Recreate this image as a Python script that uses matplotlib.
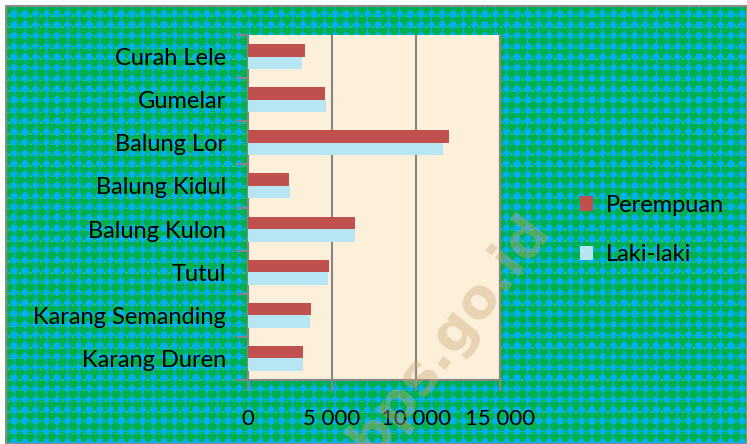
import numpy as np
import matplotlib
matplotlib.use("Agg")
import matplotlib.pyplot as plt
from matplotlib.ticker import FixedFormatter
from matplotlib.patches import Patch

categories = ["Curah Lele", "Gumelar", "Balung Lor", "Balung Kidul",
              "Balung Kulon", "Tutul", "Karang Semanding", "Karang Duren"]
perempuan = [3380, 4580, 11960, 2450, 6370, 4810, 3740, 3270]
laki_laki = [3200, 4640, 11620, 2490, 6370, 4750, 3680, 3260]
xticks = [0, 5000, 10000, 15000]
xtick_labels = ["0", "5 000", "10 000", "15 000"]

W, H = 747, 444
fig = plt.figure(figsize=(W / 100, H / 100), dpi=100, facecolor="white")

# patterned background
bg = fig.add_axes([6 / W, 0, (W - 6) / W, (H - 6) / H])
hh, ww = H - 6, W - 6
yy, xx = np.mgrid[0:hh, 0:ww]
p = 10.7
u = ((xx + 3) % p) / p - 0.5
v = ((yy + 3) % p) / p - 0.5
circ = (u ** 2 + v ** 2) < 0.47 ** 2
uu = np.abs(np.abs(u) - 0.5)
vv = np.abs(np.abs(v) - 0.5)
sq = (uu < 0.26) & (vv < 0.26)
hl = (u ** 2 + (v + 0.2) ** 2 < 0.2 ** 2) & (v < -0.25)
img = np.zeros((hh, ww, 3))
img[:] = np.array([0, 176, 240]) / 255
img[circ] = np.array([0, 176, 80]) / 255
img[circ & hl] = np.array([40, 192, 110]) / 255
img[sq] = np.array([0, 176, 240]) / 255
bg.imshow(img, aspect="auto", interpolation="nearest")
bg.set_axis_off()
fig.patches.append(plt.Rectangle((6 / W, 0), (W - 6) / W, (H - 6) / H,
                                 transform=fig.transFigure, fill=False,
                                 edgecolor="#8c8c8c", linewidth=1.5, zorder=5))

ax = fig.add_axes([248 / W, 1 - 380 / H, (500 - 248) / W, (380 - 35) / H])
ax.set_facecolor("#fdf0da")

n = len(categories)
pos = np.arange(n)
h = 0.29
ax.barh(pos - h / 2, perempuan, height=h, color="#c0504d", zorder=3)
ax.barh(pos + h / 2, laki_laki, height=h, color="#b6e5f3", zorder=3)
ax.set_ylim(n - 0.5, -0.5)
ax.set_xlim(0, 15000)

ax.set_yticks(pos)
ax.set_yticklabels(categories)
ax.set_yticks(np.arange(n + 1) - 0.5, minor=True)
ax.tick_params(axis="y", which="major", length=0, pad=16, labelsize=17)
ax.tick_params(axis="y", which="minor", length=8, color="#868686", width=1.5)
ax.set_xticks(xticks)
ax.xaxis.set_major_formatter(FixedFormatter(xtick_labels))
ax.tick_params(axis="x", length=8, color="#868686", width=1.5, pad=13, labelsize=16)
for lab in ax.get_xticklabels() + ax.get_yticklabels():
    lab.set_fontfamily(["Lato", "DejaVu Sans"])

ax.grid(axis="x", color="#868686", linewidth=1.5, zorder=1)
ax.spines["top"].set_visible(False)
for s in ["left", "bottom", "right"]:
    ax.spines[s].set_color("#868686")
    ax.spines[s].set_linewidth(1.5)

# legend
handles = [Patch(facecolor="#c0504d"), Patch(facecolor="#b6e5f3")]
fig.legend(handles, ["Perempuan", "Laki-laki"], loc="center left",
           bbox_to_anchor=(559 / W, 1 - 230 / H), frameon=False,
           prop={"family": ["Lato", "DejaVu Sans"], "size": 17},
           handlelength=0.55, handleheight=0.55, labelspacing=1.2,
           handletextpad=0.55)

# watermark
fig.text(450 / W, 1 - 335 / H, "bps.go.id", rotation=52, fontsize=40,
         fontweight="bold", color="#c8a878", alpha=0.4,
         ha="center", va="center", zorder=10)

fig.savefig("out.png", dpi=100, facecolor=fig.get_facecolor())
